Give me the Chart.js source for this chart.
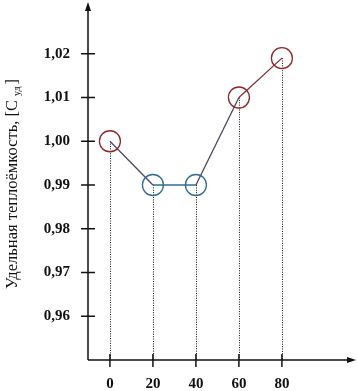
<!DOCTYPE html>
<html>
<head>
<meta charset="utf-8">
<script src="https://cdn.jsdelivr.net/npm/chart.js@4/dist/chart.umd.min.js"></script>
<style>
html,body{margin:0;padding:0;background:#fff;}
#wrap{width:357px;height:391px;position:relative;}
</style>
</head>
<body>
<div id="wrap"><canvas id="c" width="357" height="391"></canvas></div>
<script>
// Data
const temperatures = [0, 20, 40, 60, 80];
const heatCapacity = [1.00, 0.99, 0.99, 1.01, 1.019];
const yTickValues = [0.96, 0.97, 0.98, 0.99, 1.00, 1.01, 1.02];
const xTickValues = [0, 20, 40, 60, 80];
const yTitleMain = 'Удельная теплоёмкость, [C ';
const yTitleSub = 'уд';
const yTitleEnd = ']';

const RED = '#8b2a2e';
const BLUE = '#2f6d8b';
const pointColors = [RED, BLUE, BLUE, RED, RED];
const segmentColors = ['#4e4863', '#2f6d8b', '#4f4555', '#7d3033'];

const axesPlugin = {
  id: 'axesPlugin',
  beforeDatasetsDraw(chart) {
    const ctx = chart.ctx;
    const xs = chart.scales.x, ys = chart.scales.y;
    const x0 = xs.left, y0 = ys.bottom;
    ctx.save();
    // dotted drop lines
    ctx.strokeStyle = '#111';
    ctx.lineWidth = 1;
    ctx.setLineDash([1, 1.4]);
    temperatures.forEach((t, i) => {
      const px = Math.round(xs.getPixelForValue(t)) + 0.5;
      const py = ys.getPixelForValue(heatCapacity[i]);
      ctx.beginPath();
      ctx.moveTo(px, py);
      ctx.lineTo(px, y0);
      ctx.stroke();
    });
    ctx.setLineDash([]);
    // axis lines
    ctx.strokeStyle = '#111';
    ctx.fillStyle = '#111';
    ctx.lineWidth = 1.5;
    ctx.beginPath();
    ctx.moveTo(x0, y0);
    ctx.lineTo(x0, ys.top + 4);
    ctx.moveTo(x0, y0);
    ctx.lineTo(xs.right - 4, y0);
    ctx.stroke();
    // arrows
    ctx.beginPath();
    ctx.moveTo(x0, ys.top - 1);
    ctx.lineTo(x0 - 3, ys.top + 8);
    ctx.lineTo(x0 + 3, ys.top + 8);
    ctx.closePath();
    ctx.fill();
    ctx.beginPath();
    ctx.moveTo(xs.right + 1, y0);
    ctx.lineTo(xs.right - 8, y0 - 3);
    ctx.lineTo(xs.right - 8, y0 + 3);
    ctx.closePath();
    ctx.fill();
    // y tick marks
    ctx.lineWidth = 1.5;
    yTickValues.forEach(v => {
      const py = ys.getPixelForValue(v);
      ctx.beginPath();
      ctx.moveTo(x0 - 7, py);
      ctx.lineTo(x0 + 7, py);
      ctx.stroke();
    });
    xTickValues.forEach(v => {
      const px = xs.getPixelForValue(v);
      ctx.beginPath();
      ctx.moveTo(px, y0 - 6);
      ctx.lineTo(px, y0 + 7);
      ctx.stroke();
    });
    // y title
    ctx.translate(13, 184);
    ctx.rotate(-Math.PI / 2);
    ctx.fillStyle = '#111';
    const big = '16.5px "Liberation Serif", "Times New Roman", serif';
    const small = '10px "Liberation Serif", "Times New Roman", serif';
    ctx.font = big;
    const w1 = ctx.measureText(yTitleMain).width;
    const w3 = ctx.measureText(yTitleEnd).width;
    ctx.font = small;
    const w2 = ctx.measureText(yTitleSub).width;
    const total = w1 + w2 + 2 + w3;
    let sx = -total / 2;
    ctx.textBaseline = 'middle';
    ctx.textAlign = 'left';
    ctx.font = big;
    ctx.fillText(yTitleMain, sx, 0);
    ctx.font = small;
    ctx.fillText(yTitleSub, sx + w1, 4);
    ctx.font = big;
    ctx.fillText(yTitleEnd, sx + w1 + w2 + 2, 0);
    ctx.restore();
  }
};

function zeroPad(s) {
  s.paddingTop = 0; s.paddingBottom = 0; s.paddingLeft = 0; s.paddingRight = 0;
}

new Chart(document.getElementById('c'), {
  type: 'line',
  data: {
    datasets: [{
      data: temperatures.map((t, i) => ({ x: t, y: heatCapacity[i] })),
      borderWidth: 1.3,
      pointRadius: 10.5,
      pointHoverRadius: 10.5,
      pointBorderWidth: 1.3,
      pointBackgroundColor: 'rgba(0,0,0,0)',
      pointBorderColor: pointColors,
      segment: {
        borderColor: c => segmentColors[c.p0DataIndex]
      },
      tension: 0
    }]
  },
  options: {
    responsive: false,
    animation: false,
    devicePixelRatio: 1,
    layout: { autoPadding: false, padding: { top: 3, right: 2, left: 0, bottom: 0 } },
    plugins: { legend: { display: false }, tooltip: { enabled: false } },
    scales: {
      x: {
        type: 'linear',
        min: -10.2,
        max: 114,
        border: { display: false },
        grid: { display: false, drawTicks: false },
        afterBuildTicks: s => { s.ticks = xTickValues.map(v => ({ value: v })); },
        afterFit: s => { s.height = 31; zeroPad(s); },
        ticks: {
          padding: 15,
          color: '#111',
          font: { family: '"Liberation Serif", "Times New Roman", serif', size: 15, weight: 'bold' },
          maxRotation: 0,
          autoSkip: false
        }
      },
      y: {
        min: 0.95,
        max: 1.0316,
        border: { display: false },
        grid: { display: false, drawTicks: false },
        afterBuildTicks: s => { s.ticks = yTickValues.map(v => ({ value: v })); },
        afterFit: s => { s.width = 88; zeroPad(s); },
        ticks: {
          padding: 18,
          color: '#111',
          font: { family: '"Liberation Serif", "Times New Roman", serif', size: 15, weight: 'bold' },
          callback: v => v.toFixed(2).replace('.', ','),
          autoSkip: false
        }
      }
    }
  },
  plugins: [axesPlugin]
});
</script>
</body>
</html>
